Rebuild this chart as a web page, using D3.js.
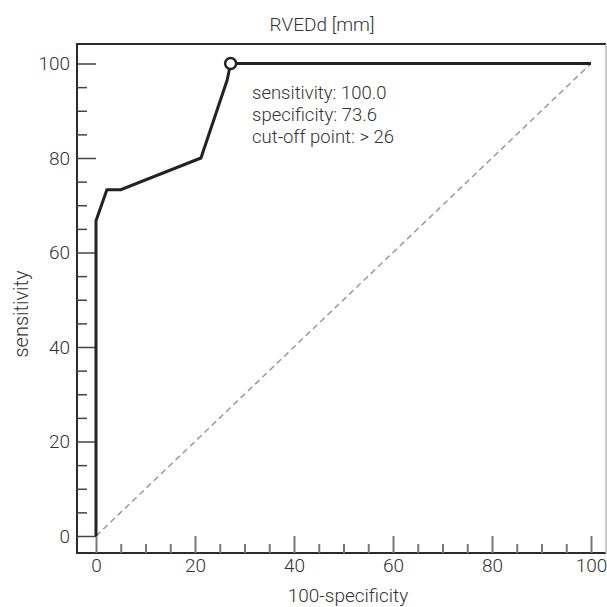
<!DOCTYPE html>
<html>
<head>
<meta charset="utf-8">
<script src="https://cdn.jsdelivr.net/npm/d3@7"></script>
<style>
  html, body { margin: 0; padding: 0; background: #fff; }
  svg { display: block; }
  text { font-family: Roboto, "Open Sans", sans-serif; font-weight: 300; }
</style>
</head>
<body>
<svg id="chart" width="607" height="607"></svg>
<script>
// ---- data ----
const rocX = [0, 0, 2.2, 5.0, 21.2, 26.5, 27.2, 100];      // 100-specificity
const rocY = [0, 66.7, 73.3, 73.3, 80.0, 96.5, 100, 100];  // sensitivity
const cutX = 27.2, cutY = 100;
const majorTicks = [0, 20, 40, 60, 80, 100];
const minorTicks = [5, 10, 15, 25, 30, 35, 45, 50, 55, 65, 70, 75, 85, 90, 95];
const titleText = "RVEDd [mm]";
const xLabel = "100-specificity";
const yLabel = "sensitivity";
const annotation = ["sensitivity: 100.0", "specificity: 73.6", "cut-off point: > 26"];

// ---- layout ----
const TXT = "#333";
const svg = d3.select("#chart");
const frame = { left: 77, top: 44, right: 606, bottom: 553 };
const x = d3.scaleLinear().domain([0, 100]).range([96, 591]);
const y = d3.scaleLinear().domain([0, 100]).range([536, 63.5]);

// frame: top, left, bottom dark; right edge light
svg.append("path")
  .attr("d", `M${frame.right},${frame.top}H${frame.left}V${frame.bottom}H${frame.right}`)
  .attr("fill", "none").attr("stroke", "#2b2b2b").attr("stroke-width", 2);
svg.append("line")
  .attr("x1", frame.right).attr("x2", frame.right).attr("y1", frame.top).attr("y2", frame.bottom)
  .attr("stroke", "#bbb").attr("stroke-width", 1.5);

// x axis major
const gx = svg.append("g").attr("transform", `translate(0,${frame.bottom})`)
  .call(d3.axisBottom(x).tickValues(majorTicks).tickSizeInner(-(frame.bottom - y(0))).tickSizeOuter(0).tickPadding(6));
gx.select(".domain").remove();
gx.selectAll(".tick line").attr("stroke", "#777").attr("stroke-width", 2);
gx.selectAll(".tick text").attr("font-size", 19).attr("font-family", null).attr("fill", TXT);

const gxm = svg.append("g").attr("transform", `translate(0,${frame.bottom})`)
  .call(d3.axisBottom(x).tickValues(minorTicks).tickSizeInner(-9).tickSizeOuter(0).tickFormat(""));
gxm.select(".domain").remove();
gxm.selectAll(".tick line").attr("stroke", "#777").attr("stroke-width", 2);

// y axis major
const gy = svg.append("g").attr("transform", `translate(${frame.left},0)`)
  .call(d3.axisLeft(y).tickValues(majorTicks).tickSizeInner(-(x(0) - frame.left)).tickSizeOuter(0).tickPadding(7));
gy.select(".domain").remove();
gy.selectAll(".tick line").attr("stroke", "#444").attr("stroke-width", 1.5);
gy.selectAll(".tick text").attr("font-size", 19).attr("font-family", null).attr("fill", TXT);

const gym = svg.append("g").attr("transform", `translate(${frame.left},0)`)
  .call(d3.axisLeft(y).tickValues(minorTicks).tickSizeInner(-10).tickSizeOuter(0).tickFormat(""));
gym.select(".domain").remove();
gym.selectAll(".tick line").attr("stroke", "#444").attr("stroke-width", 1.5);

// diagonal reference
svg.append("line")
  .attr("x1", x(0)).attr("y1", y(0)).attr("x2", x(100)).attr("y2", y(100))
  .attr("stroke", "#9a9a9a").attr("stroke-width", 1.5).attr("stroke-dasharray", "6,4");

// ROC curve
const pts = rocX.map((d, i) => [d, rocY[i]]);
svg.append("path")
  .attr("d", d3.line().x(d => x(d[0])).y(d => y(d[1]))(pts))
  .attr("fill", "none").attr("stroke", "#222").attr("stroke-width", 3)
  .attr("stroke-linejoin", "miter");

// cut-off marker
svg.append("circle")
  .attr("cx", x(cutX)).attr("cy", y(cutY)).attr("r", 5.5)
  .attr("fill", "#fff").attr("stroke", "#222").attr("stroke-width", 2.5);

// annotation
svg.append("g").selectAll("text").data(annotation).join("text")
  .attr("x", 252).attr("y", (d, i) => 99 + i * 22.2)
  .attr("font-size", 18.5).attr("fill", TXT).text(d => d);

// titles
svg.append("text").attr("x", 322).attr("y", 31).attr("text-anchor", "middle")
  .attr("font-size", 19).attr("fill", TXT).text(titleText);
svg.append("text").attr("x", 348).attr("y", 602).attr("text-anchor", "middle")
  .attr("font-size", 19).attr("fill", TXT).text(xLabel);
svg.append("text").attr("transform", "translate(28,314) rotate(-90)").attr("text-anchor", "middle")
  .attr("font-size", 20).attr("fill", TXT).text(yLabel);
</script>
</body>
</html>
